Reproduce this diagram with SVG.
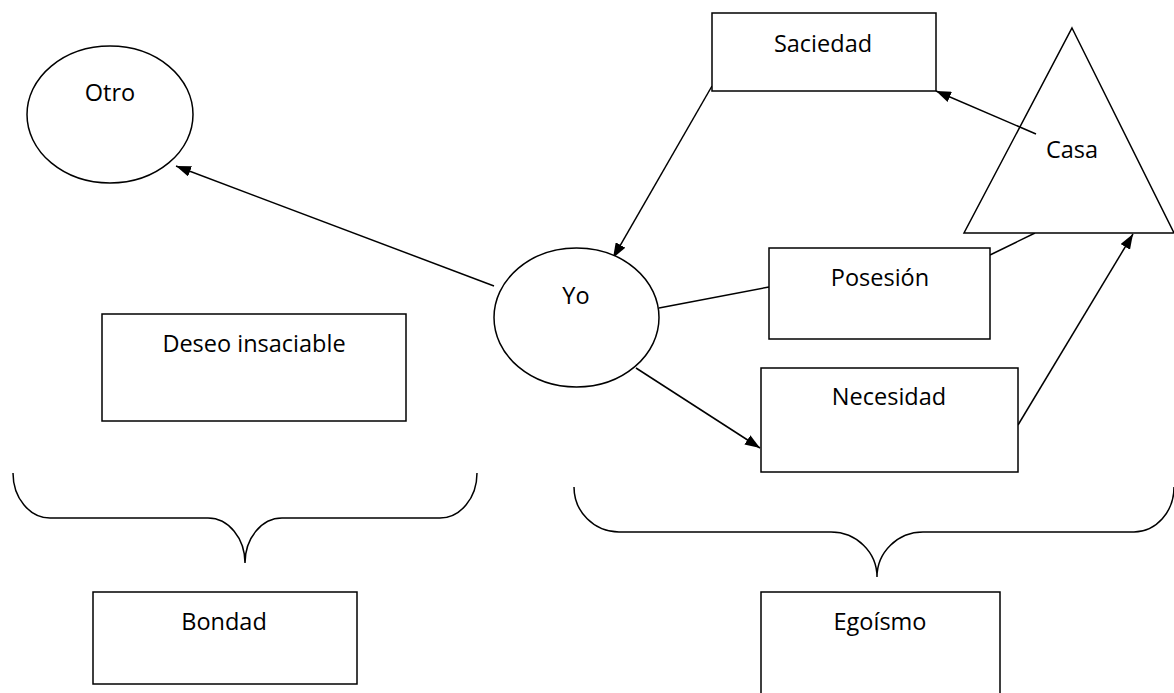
<svg xmlns="http://www.w3.org/2000/svg" width="1174" height="693" viewBox="0 0 1174 693">
  <style>
    .shape { fill: #ffffff; stroke: #000000; stroke-width: 1.5; }
    .link { fill: none; stroke: #000000; stroke-width: 1.5; }
    .brace { fill: none; stroke: #000000; stroke-width: 1.5; }
    .label { font-family: "Open Sans", "Liberation Sans", sans-serif; font-size: 23.5px; fill: #000000; text-anchor: middle; }
  </style>
  <defs>
    <marker id="arrow" viewBox="0 0 15 11" refX="15" refY="5.5" markerWidth="15" markerHeight="11" markerUnits="userSpaceOnUse" orient="auto">
      <path d="M0,0 L15,5.5 L0,11 Z" fill="#000000"/>
    </marker>
  </defs>
  <rect width="1174" height="693" fill="#ffffff"/>

  <!-- connectors -->
  <g id="connectors">
    <line class="link" x1="494" y1="286" x2="176" y2="166" marker-end="url(#arrow)"/>
    <line class="link" x1="712" y1="86" x2="613" y2="258" marker-end="url(#arrow)"/>
    <line class="link" x1="659" y1="308" x2="769" y2="287"/>
    <line class="link" x1="636" y1="368" x2="760" y2="448" marker-end="url(#arrow)"/>
    <line class="link" x1="990" y1="255" x2="1035" y2="233"/>
    <line class="link" x1="1018" y1="425" x2="1133" y2="234" marker-end="url(#arrow)"/>
  </g>

  <g id="node-otro">
    <ellipse class="shape" cx="110" cy="114.5" rx="83" ry="68.5"/>
    <text class="label" x="110" y="101">Otro</text>
  </g>

  <g id="node-yo">
    <ellipse class="shape" cx="576.5" cy="317.5" rx="82.5" ry="69.5"/>
    <text class="label" x="576" y="304">Yo</text>
  </g>

  <g id="node-saciedad">
    <rect class="shape" x="712" y="13" width="224" height="78"/>
    <text class="label" x="823" y="52">Saciedad</text>
  </g>

  <g id="node-casa">
    <polygon class="shape" points="1072,28 1174,233 964,233"/>
    <text class="label" x="1072" y="158">Casa</text>
  </g>

  <!-- Casa to Saciedad arrow sits on top of the triangle -->
  <g id="connector-casa-saciedad">
    <line class="link" x1="1036" y1="134" x2="936" y2="91" marker-end="url(#arrow)"/>
  </g>

  <g id="node-posesion">
    <rect class="shape" x="769" y="248" width="221" height="91"/>
    <text class="label" x="880" y="286">Posesión</text>
  </g>

  <g id="node-necesidad">
    <rect class="shape" x="761" y="368" width="257" height="104"/>
    <text class="label" x="889" y="405">Necesidad</text>
  </g>

  <g id="node-deseo">
    <rect class="shape" x="102" y="314" width="304" height="107"/>
    <text class="label" x="254" y="352">Deseo insaciable</text>
  </g>

  <g id="brace-left">
    <path class="brace" d="M13,473 A37,45 0 0 0 50,518 L208,518 A37,45 0 0 1 245,563 A37,45 0 0 1 282,518 L440,518 A37,45 0 0 0 477,473"/>
  </g>

  <g id="brace-right">
    <path class="brace" d="M574,487 A45,45 0 0 0 619,532 L831,532 A46,45 0 0 1 877,577 A46,45 0 0 1 923,532 L1134,532 A40,45 0 0 0 1174,487"/>
  </g>

  <g id="node-bondad">
    <rect class="shape" x="93" y="592" width="264" height="92"/>
    <text class="label" x="224" y="630">Bondad</text>
  </g>

  <g id="node-egoismo">
    <rect class="shape" x="761" y="592" width="239" height="110"/>
    <text class="label" x="880" y="630">Egoísmo</text>
  </g>
</svg>
